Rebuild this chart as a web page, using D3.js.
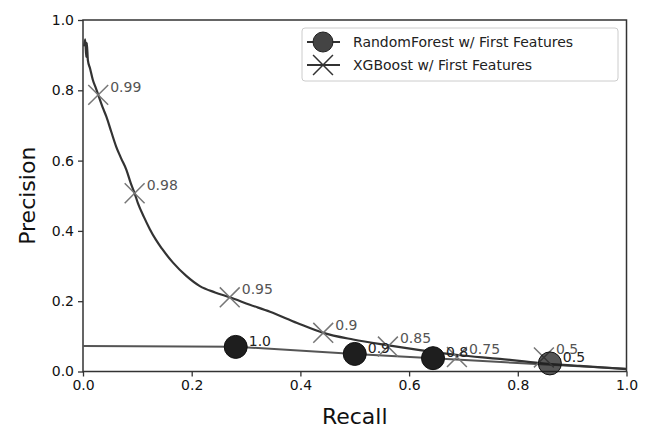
<!DOCTYPE html>
<html>
<head>
<meta charset="utf-8">
<script src="https://cdn.jsdelivr.net/npm/d3@7"></script>
<style>
  body { margin: 0; background: #fff; }
  svg text { font-family: "DejaVu Sans", sans-serif; }
</style>
</head>
<body>
<script>
// XGBoost precision-recall curve
var xgbRecall = [0.002, 0.004, 0.006, 0.007, 0.009, 0.013, 0.018, 0.024, 0.028, 0.036, 0.043, 0.052, 0.061, 0.070, 0.080,
    0.088, 0.095, 0.101, 0.112, 0.123, 0.134, 0.145, 0.166, 0.190, 0.215, 0.243, 0.270, 0.307, 0.344, 0.394, 0.442,
    0.497, 0.559, 0.620, 0.690, 0.767, 0.841, 0.914, 1.0];
var xgbPrecision = [0.925, 0.945, 0.895, 0.935, 0.885, 0.862, 0.83, 0.805, 0.787, 0.752, 0.725, 0.682, 0.640, 0.607, 0.573,
    0.535, 0.507, 0.479, 0.440, 0.405, 0.375, 0.350, 0.309, 0.272, 0.243, 0.225, 0.211, 0.190, 0.170, 0.138, 0.110,
    0.091, 0.075, 0.061, 0.047, 0.036, 0.024, 0.016, 0.007];

// XGBoost threshold markers
var xgbMarkRecall = [0.028, 0.095, 0.270, 0.442, 0.561, 0.688, 0.848];
var xgbMarkPrecision = [0.787, 0.507, 0.211, 0.110, 0.071, 0.041, 0.040];
var xgbMarkLabels = ["0.99", "0.98", "0.95", "0.9", "0.85", "0.75", "0.5"];

// RandomForest curve
var rfRecall = [0.0, 0.281, 0.500, 0.644, 0.859, 1.0];
var rfPrecision = [0.0725, 0.0705, 0.050, 0.038, 0.019, 0.008];

// RandomForest threshold points
var rfPointRecall = [0.281, 0.500, 0.644, 0.859];
var rfPointPrecision = [0.070, 0.050, 0.038, 0.023];
var rfPointLabels = ["1.0", "0.9", "0.8", "0.5"];

var xTicks = [0, 0.2, 0.4, 0.6, 0.8, 1.0];
var yTicks = [0, 0.2, 0.4, 0.6, 0.8, 1.0];

var margin = { top: 20, right: 19.5, bottom: 56.5, left: 83 },
    width = 646 - margin.left - margin.right,
    height = 428 - margin.top - margin.bottom;

var svg = d3.select("body").append("svg")
    .attr("width", 646)
    .attr("height", 428);

var g = svg.append("g")
    .attr("transform", "translate(" + margin.left + "," + margin.top + ")");

var x = d3.scaleLinear().domain([0, 1]).range([0, width]);
var y = d3.scaleLinear().domain([0, 1]).range([height, 0]);

// Axes
var xAxis = g.append("g")
    .attr("transform", "translate(0," + height + ")")
    .call(d3.axisBottom(x).tickValues(xTicks).tickFormat(d3.format(".1f")).tickSize(5).tickPadding(4));
var yAxis = g.append("g")
    .call(d3.axisLeft(y).tickValues(yTicks).tickFormat(d3.format(".1f")).tickSize(5).tickPadding(4));

[xAxis, yAxis].forEach(function (a) {
    a.select(".domain").remove();
    a.selectAll("line").attr("stroke", "#333").attr("stroke-width", 1.3);
    a.selectAll("text").attr("font-size", 14).attr("fill", "#111");
});

// Frame
g.append("rect")
    .attr("width", width)
    .attr("height", height)
    .attr("fill", "none")
    .attr("stroke", "#333")
    .attr("stroke-width", 1.5);

var xgbData = xgbRecall.map(function (r, i) { return [r, xgbPrecision[i]]; });
var rfData = rfRecall.map(function (r, i) { return [r, rfPrecision[i]]; });

var line = d3.line()
    .x(function (d) { return x(d[0]); })
    .y(function (d) { return y(d[1]); });

g.append("path")
    .datum(rfData)
    .attr("d", line)
    .attr("fill", "none")
    .attr("stroke", "#555")
    .attr("stroke-width", 2);

g.append("path")
    .datum(xgbData)
    .attr("d", line.curve(d3.curveMonotoneX))
    .attr("fill", "none")
    .attr("stroke", "#333")
    .attr("stroke-width", 2.2)
    .attr("stroke-linejoin", "round");

// X markers
var cross = d3.symbol().type(d3.symbolX).size(260);
g.selectAll(".xmark")
    .data(xgbMarkLabels)
    .enter()
    .append("path")
    .attr("class", "xmark")
    .attr("d", cross)
    .attr("transform", function (d, i) {
        return "translate(" + x(xgbMarkRecall[i]) + "," + y(xgbMarkPrecision[i]) + ")";
    })
    .attr("fill", "none")
    .attr("stroke", "#777")
    .attr("stroke-width", 1.5);

// RF dots
g.selectAll(".rfdot")
    .data(rfPointLabels)
    .enter()
    .append("circle")
    .attr("class", "rfdot")
    .attr("cx", function (d, i) { return x(rfPointRecall[i]); })
    .attr("cy", function (d, i) { return y(rfPointPrecision[i]); })
    .attr("r", 11.5)
    .attr("fill", "#1e1e1e")
    .attr("fill-opacity", function (d, i) { return i === 3 ? 0.75 : 1; })
    .attr("stroke", "#111")
    .attr("stroke-width", 1);

// Threshold labels
g.selectAll(".xlabel")
    .data(xgbMarkLabels)
    .enter()
    .append("text")
    .attr("x", function (d, i) { return x(xgbMarkRecall[i]) + 12; })
    .attr("y", function (d, i) { return y(xgbMarkPrecision[i]) - 8; })
    .attr("dy", "0.35em")
    .attr("font-size", 14)
    .attr("fill", "#555")
    .text(function (d) { return d; });

g.selectAll(".rflabel")
    .data(rfPointLabels)
    .enter()
    .append("text")
    .attr("x", function (d, i) { return x(rfPointRecall[i]) + 13; })
    .attr("y", function (d, i) { return y(rfPointPrecision[i]) - 6; })
    .attr("dy", "0.35em")
    .attr("font-size", 14)
    .attr("fill", "#222")
    .text(function (d) { return d; });

// Axis labels
svg.append("text")
    .attr("text-anchor", "middle")
    .attr("x", margin.left + width / 2)
    .attr("y", 424)
    .attr("font-size", 22)
    .attr("fill", "#111")
    .text("Recall");

svg.append("text")
    .attr("text-anchor", "middle")
    .attr("transform", "translate(35," + (margin.top + height / 2) + ") rotate(-90)")
    .attr("font-size", 22)
    .attr("fill", "#111")
    .text("Precision");

// Legend
var legend = svg.append("g").attr("transform", "translate(302,28)");
legend.append("rect")
    .attr("width", 316)
    .attr("height", 53)
    .attr("rx", 3)
    .attr("fill", "#fff")
    .attr("fill-opacity", 0.8)
    .attr("stroke", "#ccc");

legend.append("line")
    .attr("x1", 5).attr("x2", 38).attr("y1", 14).attr("y2", 14)
    .attr("stroke", "#333").attr("stroke-width", 2);
legend.append("circle")
    .attr("cx", 21).attr("cy", 14).attr("r", 10)
    .attr("fill", "#444").attr("stroke", "#222");
legend.append("line")
    .attr("x1", 5).attr("x2", 38).attr("y1", 37).attr("y2", 37)
    .attr("stroke", "#333").attr("stroke-width", 2);
legend.append("path")
    .attr("d", cross)
    .attr("transform", "translate(21,37)")
    .attr("fill", "none")
    .attr("stroke", "#333")
    .attr("stroke-width", 1.5);

legend.append("text")
    .attr("x", 51).attr("y", 14).attr("dy", "0.35em")
    .attr("font-size", 14).attr("fill", "#222")
    .text("RandomForest w/ First Features");
legend.append("text")
    .attr("x", 51).attr("y", 37).attr("dy", "0.35em")
    .attr("font-size", 14).attr("fill", "#222")
    .text("XGBoost w/ First Features");
</script>
</body>
</html>
